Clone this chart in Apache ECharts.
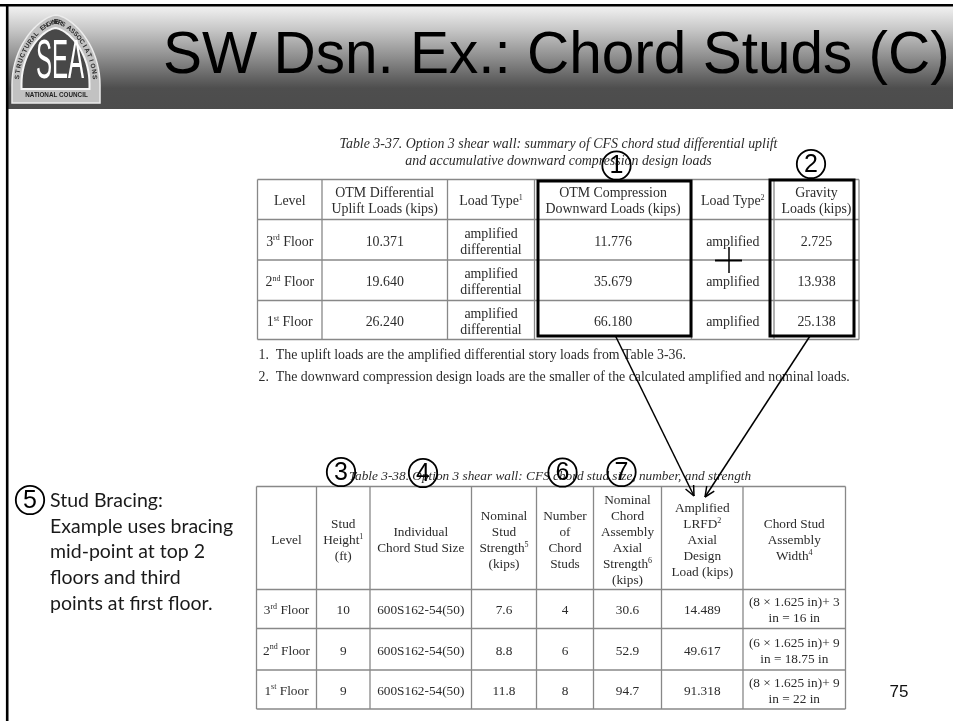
<!DOCTYPE html>
<html>
<head>
<meta charset="utf-8">
<title>SW Dsn. Ex.: Chord Studs (C)</title>
<script src="https://cdn.jsdelivr.net/npm/echarts@6/dist/echarts.min.js"></script>
<style>
html, body { margin: 0; padding: 0; background: #fff; }
#main { width: 953px; height: 721px; filter: blur(0.4px); }
</style>
</head>
<body>
<div id="main"></div>
<script>
const slideTitle = "SW Dsn. Ex.: Chord Studs (C)";

// Table 3-37
const caption37 = [
	"Table 3-37. Option 3 shear wall: summary of CFS chord stud differential uplift",
	"and accumulative downward compression design loads",
];
const levels = ["3{s|rd} Floor", "2{s|nd} Floor", "1{s|st} Floor"];
const head37 = [
	"Level",
	"OTM Differential\nUplift Loads (kips)",
	"Load Type{s|1}",
	"OTM Compression\nDownward Loads (kips)",
	"Load Type{s|2}",
	"Gravity\nLoads (kips)",
];
const upliftLoads = ["10.371", "19.640", "26.240"];
const upliftTypes = ["amplified\ndifferential", "amplified\ndifferential", "amplified\ndifferential"];
const compressionLoads = ["11.776", "35.679", "66.180"];
const compressionTypes = ["amplified", "amplified", "amplified"];
const gravityLoads = ["2.725", "13.938", "25.138"];
const notes37 = [
	"1.  The uplift loads are the amplified differential story loads from Table 3-36.",
	"2.  The downward compression design loads are the smaller of the calculated amplified and nominal loads.",
];

// Table 3-38
const caption38 = "Table 3-38. Option 3 shear wall: CFS chord stud size, number, and strength";
const head38 = [
	"Level",
	"Stud\nHeight{s|1}\n(ft)",
	"Individual\nChord Stud Size",
	"Nominal\nStud\nStrength{s|5}\n(kips)",
	"Number\nof\nChord\nStuds",
	"Nominal\nChord\nAssembly\nAxial\nStrength{s|6}\n(kips)",
	"Amplified\nLRFD{s|2}\nAxial\nDesign\nLoad (kips)",
	"Chord Stud\nAssembly\nWidth{s|4}",
];
const studHeights = ["10", "9", "9"];
const studSizes = ["600S162-54(50)", "600S162-54(50)", "600S162-54(50)"];
const studStrengths = ["7.6", "8.8", "11.8"];
const studCounts = ["4", "6", "8"];
const assemblyStrengths = ["30.6", "52.9", "94.7"];
const designLoads = ["14.489", "49.617", "91.318"];
const assemblyWidths = [
	"(8 × 1.625 in)+ 3\nin = 16 in",
	"(6 × 1.625 in)+ 9\nin = 18.75 in",
	"(8 × 1.625 in)+ 9\nin = 22 in",
];

const bracingNote = [
	"Stud Bracing:",
	"Example uses bracing",
	"mid-point at top 2",
	"floors and third",
	"points at first floor.",
];
const pageNumber = "75";
const logoLetters = "SEA";
const logoFooter = "NATIONAL COUNCIL";
const logoArcText = "STRUCTURAL ENGINEERS ASSOCIATIONS";

// grid lines of the two tables, in page pixels
const colX37 = [257.5, 322, 447.5, 534.5, 691.5, 774, 859];
const rowY37 = [179.5, 219.5, 260, 300.5, 339.5];
const colX38 = [256.5, 316.5, 370, 471.5, 536.5, 593.5, 661.5, 743, 845.5];
const rowY38 = [486.5, 589.5, 628.5, 670, 709];
// numbered callouts: label, x, y
const callouts = [
	["1", 616.5, 165.5],
	["2", 811, 164],
	["3", 341, 472],
	["4", 423, 473],
	["5", 30, 500],
	["6", 562.5, 472.5],
	["7", 621.5, 472],
];

const serif = '"Liberation Serif", serif';
const sans = '"Liberation Sans", sans-serif';
const inkColor = "#2b2b2b";
const gridColor = "#888";
const supStyle = { s: { fontSize: 8, verticalAlign: "top", padding: [0, 0, 5, 0], fontFamily: serif, fill: inkColor } };

const elements = [];

function line(x1, y1, x2, y2, stroke, lineWidth) {
	elements.push({ type: "line", shape: { x1, y1, x2, y2 }, style: { stroke, lineWidth }, silent: true });
}

function text(str, x, y, opts) {
	elements.push({
		type: "text",
		silent: true,
		style: Object.assign(
			{ text: str, x, y, fill: inkColor, fontFamily: serif, fontSize: 13, align: "center", verticalAlign: "middle", lineHeight: 16, rich: supStyle },
			opts
		),
	});
}

function tableGrid(colX, rowY) {
	colX.forEach((x) => line(x, rowY[0], x, rowY[rowY.length - 1], gridColor, 1.3));
	rowY.forEach((y) => line(colX[0], y, colX[colX.length - 1], y, gridColor, 1.3));
}

function tableCells(columns, colX, rowY, opts, dy) {
	columns.forEach((col, c) => {
		const cx = (colX[c] + colX[c + 1]) / 2;
		col.forEach((val, r) => {
			text(val, cx, (rowY[r + 1] + rowY[r + 2]) / 2 + dy, opts);
		});
	});
}

function headerCells(head, colX, rowY, opts, dy) {
	head.forEach((val, c) => {
		text(val, (colX[c] + colX[c + 1]) / 2, (rowY[0] + rowY[1]) / 2 + dy, opts);
	});
}

// point on the logo arch, t running from PI (left) to 0 (right)
function archPoint(cx, baseY, rx, ry, t) {
	const c = Math.cos(t);
	return [cx + rx * Math.sign(c) * Math.pow(Math.abs(c), 1.3), baseY - ry * Math.sin(t)];
}

function archPoints(cx, baseY, rx, ry, footY) {
	const pts = [[cx - rx, footY]];
	for (let i = 0; i <= 40; i++) {
		pts.push(archPoint(cx, baseY, rx, ry, Math.PI - (Math.PI * i) / 40));
	}
	pts.push([cx + rx, footY]);
	return pts;
}

// header band
elements.push({
	type: "rect",
	silent: true,
	shape: { x: 6, y: 5, width: 947, height: 104 },
	style: {
		fill: new echarts.graphic.LinearGradient(0, 0, 0, 1, [
			{ offset: 0, color: "#f4f4f4" },
			{ offset: 0.25, color: "#c4c4c4" },
			{ offset: 0.8, color: "#4e4e4e" },
			{ offset: 1, color: "#4c4c4c" },
		]),
	},
});
// slide frame
line(0, 5.3, 953, 5.3, "#000", 2.6);
line(7.2, 4, 7.2, 721, "#000", 2.6);

text(slideTitle, 163, 56.5, {
	fontFamily: sans,
	fontSize: 58.5,
	align: "left",
	fill: "#000",
	lineHeight: 60,
});

// logo
elements.push({
	type: "polygon",
	silent: true,
	shape: { points: archPoints(56, 85, 44, 70, 103) },
	style: { fill: "#c2c2c2", stroke: "#ececec", lineWidth: 1.5 },
});
elements.push({
	type: "polygon",
	silent: true,
	shape: { points: archPoints(55.5, 84, 34, 56, 89) },
	style: { fill: "#484848", stroke: "#f4f4f4", lineWidth: 2 },
});
elements.push({
	type: "text",
	silent: true,
	x: 60,
	y: 63,
	scaleX: 0.73,
	scaleY: 1.67,
	style: { text: logoLetters, x: 0, y: 0, align: "center", verticalAlign: "middle", fontFamily: sans, fontSize: 33, fill: "#fff" },
});
text(logoFooter, 56.5, 95.5, { fontFamily: sans, fontSize: 6.3, fontWeight: "bold", fill: "#222", lineHeight: 7 });
// lettering bent round the arch
logoArcText.split("").forEach((ch, i, all) => {
	const t = Math.PI * (0.96 - (0.92 * i) / (all.length - 1));
	const [x, y] = archPoint(56, 85, 39, 63, t);
	const [x0, y0] = archPoint(56, 85, 39, 63, t + 0.02);
	const [x1, y1] = archPoint(56, 85, 39, 63, t - 0.02);
	elements.push({
		type: "text",
		silent: true,
		x,
		y,
		rotation: -Math.atan2(y1 - y0, x1 - x0),
		style: { text: ch, x: 0, y: 0, align: "center", verticalAlign: "middle", fontFamily: sans, fontSize: 6.5, fontWeight: "bold", fill: "#2a2a2a" },
	});
});

// table 3-37
const font37 = { fontSize: 13.9 };
caption37.forEach((c, i) => text(c, 558.5, 144.5 + i * 16.5, { fontSize: 13.9, fontStyle: "italic" }));
tableGrid(colX37, rowY37);
headerCells(head37, colX37, rowY37, font37, 2);
tableCells(
	[levels, upliftLoads, upliftTypes, compressionLoads, compressionTypes, gravityLoads],
	colX37,
	rowY37,
	font37,
	2.5
);
notes37.forEach((n, i) => text(n, 258.5, 355 + i * 22, { fontSize: 13.85, align: "left" }));

// table 3-38
const font38 = { fontSize: 13.3 };
text(caption38, 550, 477, { fontSize: 13.3, fontStyle: "italic" });
tableGrid(colX38, rowY38);
headerCells(head38, colX38, rowY38, font38, 2.5);
tableCells(
	[levels, studHeights, studSizes, studStrengths, studCounts, assemblyStrengths, designLoads, assemblyWidths],
	colX38,
	rowY38,
	font38,
	1.8
);

// highlight boxes
[[538, 181, 153, 155], [770, 180, 84, 156]].forEach(([x, y, width, height]) => {
	elements.push({
		type: "rect",
		silent: true,
		shape: { x, y, width, height },
		style: { fill: "none", stroke: "#000", lineWidth: 3 },
	});
});

// plus mark between the boxes
line(715, 260.5, 742, 260.5, "#000", 2);
line(729, 247, 729, 273, "#000", 1.5);

// arrows down to the design load column
[[615.5, 336, 694, 496], [810, 336, 705, 497]].forEach(([x1, y1, x2, y2]) => {
	elements.push({
		type: "line",
		silent: true,
		shape: { x1, y1, x2, y2 },
		style: { stroke: "#000", lineWidth: 1.5 },
	});
	const a = Math.atan2(y2 - y1, x2 - x1);
	const head = 11;
	[-0.42, 0.42].forEach((d) => {
		line(x2, y2, x2 - head * Math.cos(a + d), y2 - head * Math.sin(a + d), "#000", 1.5);
	});
});

// callouts
callouts.forEach(([label, x, y]) => {
	elements.push({
		type: "circle",
		silent: true,
		shape: { cx: x, cy: y, r: 14.2 },
		style: { fill: "none", stroke: "#000", lineWidth: 1.8 },
	});
	text(label, x, y + 1, { fontFamily: sans, fontSize: 25, fill: "#000", lineHeight: 26 });
});

// bracing note
bracingNote.forEach((n, i) => {
	text(n, 50, 501 + i * 25.6, { fontFamily: "Lato, sans-serif", fontSize: 19.5, align: "left", lineHeight: 22, fill: "#1a1a1a" });
});

text(pageNumber, 899, 692, { fontFamily: sans, fontSize: 17, fill: "#111", lineHeight: 18 });

const chart = echarts.init(document.getElementById("main"), null, { renderer: "canvas" });
chart.setOption({
	animation: false,
	backgroundColor: "#fff",
	graphic: { elements },
});
</script>
</body>
</html>
